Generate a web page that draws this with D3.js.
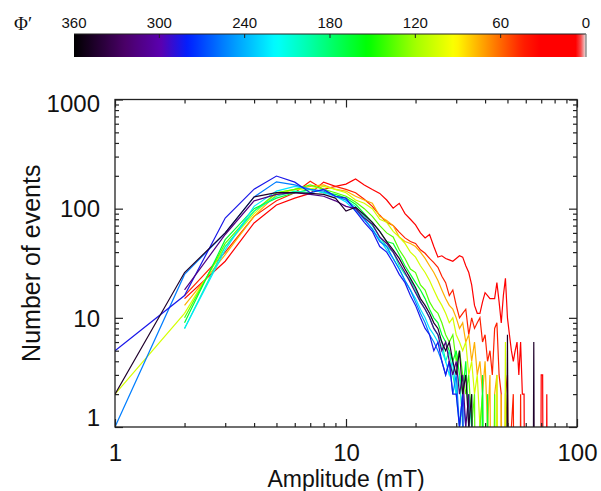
<!DOCTYPE html>
<html>
<head>
<meta charset="utf-8">
<script src="https://cdn.jsdelivr.net/npm/d3@7/dist/d3.min.js"></script>
<style>
  html, body { margin: 0; padding: 0; background: #fff; }
  svg { display: block; }
  text { font-family: "Liberation Sans", Arial, Helvetica, sans-serif; fill: #111; }
</style>
</head>
<body>
<svg id="chart" width="601" height="491"></svg>
<script>
// ---------------- data ----------------
// Amplitude bins (mT), index i -> amplitude i+1
const amplitudes = d3.range(1, 76);
// Φ' bin centres (degrees) for each series
const phiBins = [15, 45, 75, 105, 135, 165, 195, 225, 255, 285, 315, 345];
// Number of events per amplitude bin (null = not drawn, 0 = no events)
const s15 = [null,15,33,74,108,125,138,175,160,168, 187,165,150,138,120,101,112,90,80,71, 60,54,58,45,36,37,35,34,33,35, 37,36,30,26,20,13,11,11,14,17, 16,15,15,15,21,14,9,16,23,10, 7,5,4,5,6,3,6,2,2,0, 0,0,0,0,0,0,0,0,0,3, 3,0,0,2,0];
const s45 = [null,16,40,85,118,140,178,150,160,150, 140,122,105,87,75,70,61,54,50,48, 42,39,35,32,29,24,21,16,18,13, 10,11,12,7,10,8,9,10,6,7, 4,5,3,8,9,3,2,0,2,3, 0,1,2,0,1,0,2,0];
const s75 = [null,13,38,85,135,150,160,165,150,145, 130,120,112,85,78,70,55,50,48,45, 40,35,30,26,22,18,15,13,12,10, 8,9,6,7,4,6,3,4,2,4, 1,3,0,2,3,0,2,0,1,2, 0,1,0];
const s105 = [2,11,45,90,140,150,152,160,150,140, 120,112,100,80,75,62,55,48,40,36, 30,26,22,18,15,13,11,9,10,7, 6,5,6,3,4,2,3,1,2,0, 2,0,1,0,3,0,0,0,6,0, 0,0,0,0,1,0];
const s135 = [null,10,48,95,140,150,165,150,140,130, 115,100,85,70,60,55,42,35,28,26, 20,18,14,12,11,9,7,6,7,4, 5,3,2,3,1,2,0,1,2,0, 1,0,0,2,0];
const s165 = [null,9,52,100,125,140,150,140,135,125, 110,90,75,62,50,48,38,30,25,21, 18,15,12,10,9,7,6,5,4,5, 3,2,4,1,2,0,1,0,3,0, 2,0];
const s195 = [null,8,45,95,130,145,140,150,130,120, 105,85,70,55,45,40,30,25,22,18, 14,12,10,8,7,6,4,5,3,2, 3,1,0,2,1,0,1,0];
const s225 = [null,8,42,105,145,160,150,140,130,115, 95,80,65,52,42,35,28,22,18,15, 12,10,8,7,6,5,4,3,4,2, 1,2,0,1,0,1,0];
const s255 = [1,25,60,128,176,165,150,145,130,120, 100,80,65,50,45,35,28,22,18,14, 11,9,7,6,5,4,3,4,2,3, 1,2,1,0,1,0];
const s285 = [5,16,82,151,199,175,140,150,130,125, 95,75,62,45,40,32,25,21,16,13, 10,8,7,5,6,4,3,4,2,2, 1,2,0,1,0,1,0];
const s315 = [null,18,58,118,135,140,135,130,118,105, 100,82,72,55,48,40,32,26,21,17, 14,12,10,8,7,5,6,4,3,4, 2,3,1,2,0,1,0];
const s345 = [2,26,60,128,140,140,138,135,125,95, 103,88,75,62,50,42,35,28,23,19, 15,13,11,9,8,6,5,6,4,3, 5,2,3,1,2,0,1,0,0,0, 0,0,0,0,0,0,0,0,0,7, 0,0,0,0,0,0,0,0,0,0, 0,0,0,0,6,0];
const seriesValues = [s15, s45, s75, s105, s135, s165, s195, s225, s255, s285, s315, s345];

// axis ticks
const xMajor = [1, 10, 100];
const xMinor = [2,3,4,5,6,7,8,9,20,30,40,50,60,70,80,90];
const yMajor = [1, 10, 100, 1000];
const yMinor = [2,3,4,5,6,7,8,9,20,30,40,50,60,70,80,90,200,300,400,500,600,700,800,900];
const cbTicks = [360, 300, 240, 180, 120, 60, 0];

// colour table (rainbow + white), position t in [0,1] from 360 -> 0
const ctPos = [0, 0.10, 0.17, 0.223, 0.305, 0.395, 0.455, 0.575, 0.665, 0.744, 0.80, 0.875, 0.91, 0.985, 1];
const ctCol = ["#000000","#4a0068","#5a00b0","#0020ff","#0090ff","#00ffff","#00ffb0","#00ff00","#a0ff00","#ffff00","#ffa000","#ff2000","#ff0000","#ff0000","#e8e8e8"];

// ---------------- layout ----------------
const svg = d3.select("#chart");
const L = 115, R = 577, T = 99.5, B = 427;
const x = d3.scaleLog().domain([1, 100]).range([L, R]);
const y = d3.scaleLog().domain([1, 1000]).range([B, T]);
const ct = d3.scaleLinear().domain(ctPos).range(ctCol).interpolate(d3.interpolateRgb).clamp(true);
const phiT = v => (360 - v) / 360;

// ---------------- colour bar ----------------
const cbL = 74, cbR = 586, cbT = 34, cbB = 57;
const cb = d3.scaleLinear().domain([360, 0]).range([cbL, cbR]);
const defs = svg.append("defs");
const grad = defs.append("linearGradient").attr("id", "cbgrad").attr("x1", "0").attr("x2", "1").attr("y1", "0").attr("y2", "0");
d3.range(0, 101).forEach(i => {
  const t = i / 100;
  grad.append("stop").attr("offset", t).attr("stop-color", ct(t));
});
svg.append("rect").attr("x", cbL).attr("y", cbT).attr("width", cbR - cbL).attr("height", cbB - cbT).attr("fill", "url(#cbgrad)");
svg.append("line").attr("x1", cbL).attr("x2", cbR).attr("y1", cbT).attr("y2", cbT).attr("stroke", "#222").attr("stroke-width", 1.2);
svg.append("line").attr("x1", cbR).attr("x2", cbR).attr("y1", cbT).attr("y2", cbB).attr("stroke", "#777").attr("stroke-width", 1.2);
const cbg = svg.append("g");
cbg.selectAll("line.cbt").data(cbTicks.slice(1, -1)).enter().append("line")
  .attr("x1", d => cb(d)).attr("x2", d => cb(d)).attr("y1", cbT).attr("y2", cbT + 4)
  .attr("stroke", "#222").attr("stroke-width", 1);
cbg.selectAll("text").data(cbTicks).enter().append("text")
  .attr("x", d => cb(d)).attr("y", 28).attr("text-anchor", "middle")
  .attr("font-size", 15).text(d => d);
svg.append("text").attr("x", 14).attr("y", 30).attr("font-size", 19)
  .style("font-family", "'Liberation Serif', 'DejaVu Serif', serif").text("Φ′");

// ---------------- lines ----------------
defs.append("clipPath").attr("id", "plotclip").append("rect")
  .attr("x", L).attr("y", T).attr("width", R - L).attr("height", B - T);
const line = d3.line()
  .defined(d => d.v !== null && d.v !== undefined)
  .x(d => x(d.a))
  .y(d => y(d.v === 0 ? 0.001 : d.v));
const gLines = svg.append("g").attr("clip-path", "url(#plotclip)");
seriesValues.forEach((vals, k) => {
  const pts = vals.map((v, i) => ({ a: amplitudes[i], v: v }));
  gLines.append("path").datum(pts)
    .attr("d", line)
    .attr("fill", "none")
    .attr("stroke", ct(phiT(phiBins[k])))
    .attr("stroke-width", 1.2)
    .attr("stroke-linejoin", "miter");
});

// ---------------- axes ----------------
const axCol = "#222";
function styleAxis(g) {
  g.select(".domain").remove();
  g.selectAll(".tick line").attr("stroke", axCol).attr("stroke-width", 1.2);
}
const lblFont = g => g.selectAll("text").attr("font-size", 24).attr("fill", "#111")
  .style("font-family", "'Liberation Sans', Arial, sans-serif");
// bottom
svg.append("g").attr("transform", `translate(0,${B})`)
  .call(d3.axisBottom(x).tickValues(xMajor).tickSize(-8).tickPadding(17).tickFormat(d3.format("d")))
  .call(styleAxis).call(lblFont);
svg.append("g").attr("transform", `translate(0,${B})`)
  .call(d3.axisBottom(x).tickValues(xMinor).tickSize(-4).tickFormat(""))
  .call(styleAxis);
// top
svg.append("g").attr("transform", `translate(0,${T})`)
  .call(d3.axisTop(x).tickValues(xMajor).tickSize(-8).tickFormat(""))
  .call(styleAxis);
svg.append("g").attr("transform", `translate(0,${T})`)
  .call(d3.axisTop(x).tickValues(xMinor).tickSize(-4).tickFormat(""))
  .call(styleAxis);
// left
svg.append("g").attr("transform", `translate(${L},0)`)
  .call(d3.axisLeft(y).tickValues(yMajor).tickSize(-8).tickPadding(15).tickFormat(d3.format("d")))
  .call(styleAxis).call(lblFont)
  .call(g => g.selectAll(".tick text").attr("dy", d => d === 1 ? "-0.05em" : (d === 1000 ? "0.5em" : "0.34em")));
svg.append("g").attr("transform", `translate(${L},0)`)
  .call(d3.axisLeft(y).tickValues(yMinor).tickSize(-4).tickFormat(""))
  .call(styleAxis);
// right
svg.append("g").attr("transform", `translate(${R},0)`)
  .call(d3.axisRight(y).tickValues(yMajor).tickSize(-8).tickFormat(""))
  .call(styleAxis);
svg.append("g").attr("transform", `translate(${R},0)`)
  .call(d3.axisRight(y).tickValues(yMinor).tickSize(-4).tickFormat(""))
  .call(styleAxis);
// frame
svg.append("rect").attr("x", L).attr("y", T).attr("width", R - L).attr("height", B - T)
  .attr("fill", "none").attr("stroke", axCol).attr("stroke-width", 1.3);

// titles
svg.append("text").attr("x", (L + R) / 2).attr("y", 487).attr("text-anchor", "middle")
  .attr("font-size", 23).text("Amplitude (mT)");
svg.append("text").attr("transform", `translate(40,${(T + B) / 2}) rotate(-90)`)
  .attr("text-anchor", "middle").attr("font-size", 25).text("Number of events");
</script>
</body>
</html>
